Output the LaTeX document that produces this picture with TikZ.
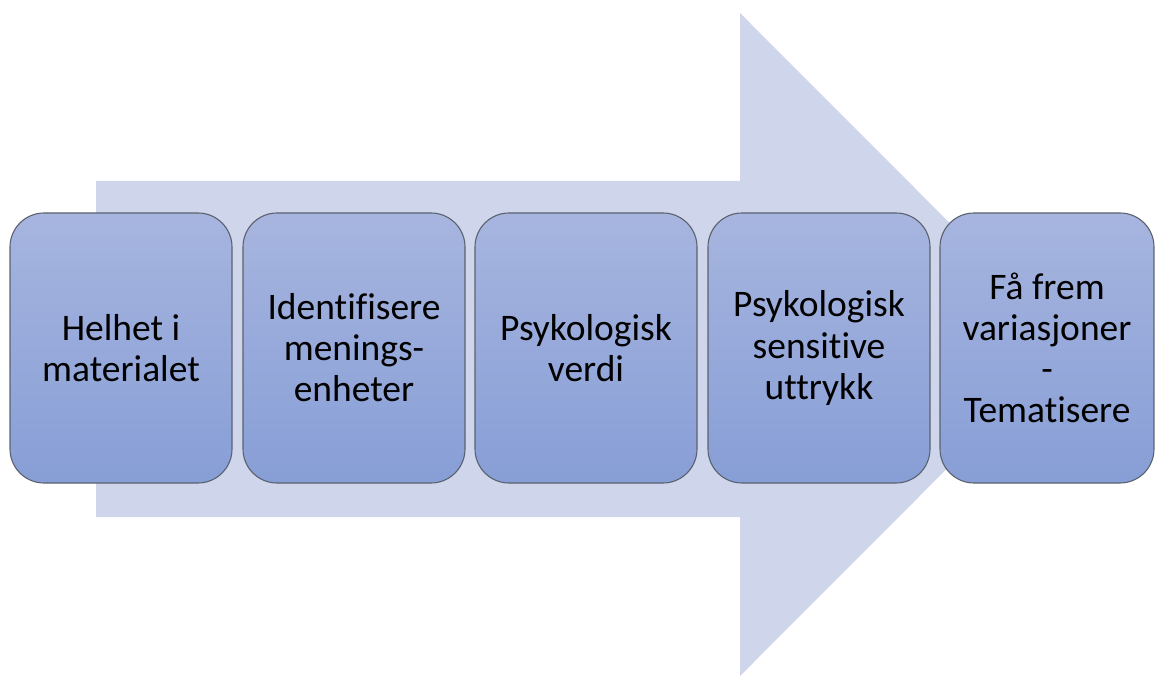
\documentclass[tikz,border=0pt]{standalone}
\usepackage{fontspec}
\setmainfont{Carlito}[Ligatures=NoCommon]
\definecolor{arrowfill}{HTML}{CFD5EA}
\definecolor{boxtop}{HTML}{A7B5DF}
\definecolor{boxbot}{HTML}{879ED6}
\definecolor{boxline}{HTML}{5A6270}
\tikzset{
  stepbox/.style={draw=boxline, line width=1.1pt, rounded corners=34pt,
    top color=boxtop, bottom color=boxbot, minimum height=270pt,
    align=center, inner sep=0pt, text=black,
    font=\fontsize{37.5}{41}\selectfont},
}
\begin{document}
\begin{tikzpicture}[x=1pt,y=-1pt]
\useasboundingbox (0,0) rectangle (1155,676);
% big background arrow
\fill[arrowfill] (96,181) -- (740,181) -- (740,13) -- (1071,344.5) -- (740,676) -- (740,517) -- (96,517) -- cycle;
\node[stepbox, minimum width=222pt] (b1) at (121,348) {Helhet i\\materialet};
\node[stepbox, minimum width=222pt] (b2) at (354,348) {Identifisere\\menings-\\enheter};
\node[stepbox, minimum width=222pt] (b3) at (586,348) {Psykologisk\\verdi};
\node[stepbox, minimum width=222pt] (b4) at (819,348) {Psykologisk\\sensitive\\uttrykk};
\node[stepbox, minimum width=214pt] (b5) at (1047,348) {Få frem\\variasjoner\\-\\Tematisere};
\end{tikzpicture}
\end{document}
